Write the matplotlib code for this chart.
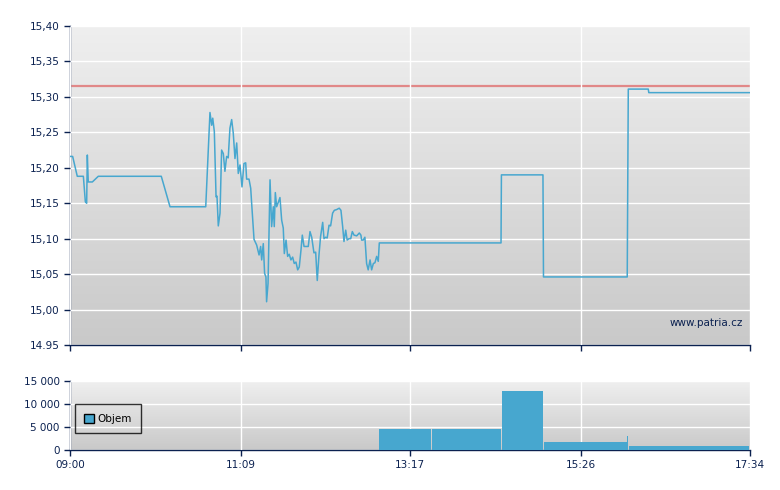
import numpy as np
import matplotlib
matplotlib.use("Agg")
import matplotlib.pyplot as plt
from matplotlib.colors import LinearSegmentedColormap
from matplotlib.patches import Patch

# minutes after the 09:00 open
price_time = [0.0, 2.0, 5.5, 10.1, 11.6, 12.6, 13.1, 13.8, 16.9, 21.4, 69.0, 75.6,
              102.6, 105.8, 107.1, 107.9, 109.1, 110.4, 111.1, 112.1, 113.4, 114.6,
              115.9, 117.1, 118.4, 119.6, 120.9, 122.2, 123.4, 124.7, 126.0, 127.2,
              128.5, 130.0, 131.5, 132.8, 133.5, 135.3, 136.6, 137.3, 139.1, 141.1,
              142.9, 144.1, 144.9, 146.1, 147.1, 148.1, 148.6, 149.7, 151.2, 152.4,
              153.7, 154.4, 155.2, 156.2, 157.4, 158.7, 160.0, 161.2, 162.0, 163.3,
              164.5, 165.7, 167.0, 168.3, 169.5, 170.8, 172.1, 173.3, 174.6, 175.6,
              176.9, 178.4, 180.1, 181.4, 182.7, 184.4, 185.7, 186.9, 188.2, 189.4,
              191.0, 192.0, 193.2, 194.4, 195.8, 197.0, 198.5, 199.8, 201.5, 203.5,
              204.8, 206.1, 207.1, 208.4, 209.5, 210.9, 212.2, 213.4, 214.7, 216.7,
              218.7, 219.9, 220.4, 221.6, 222.9, 224.2, 225.4, 226.8, 228.0, 229.3,
              230.5, 231.8, 233.0, 233.8, 325.8, 326.1, 357.5, 357.9, 421.2, 422.0,
              437.1, 437.5, 514.0]
price = [15.216, 15.216, 15.188, 15.188, 15.152, 15.150, 15.218, 15.180, 15.180, 15.188,
         15.188, 15.145, 15.145, 15.278, 15.260, 15.270, 15.251, 15.159, 15.160, 15.118,
         15.136, 15.225, 15.220, 15.195, 15.216, 15.214, 15.256, 15.268, 15.249, 15.213,
         15.235, 15.192, 15.204, 15.173, 15.206, 15.207, 15.184, 15.184, 15.171, 15.150,
         15.099, 15.091, 15.077, 15.089, 15.070, 15.093, 15.051, 15.046, 15.011, 15.037,
         15.183, 15.117, 15.145, 15.117, 15.165, 15.145, 15.151, 15.158, 15.126, 15.115,
         15.079, 15.098, 15.075, 15.078, 15.070, 15.074, 15.065, 15.067, 15.056, 15.060,
         15.084, 15.105, 15.089, 15.089, 15.089, 15.110, 15.102, 15.080, 15.081, 15.041,
         15.077, 15.103, 15.123, 15.100, 15.102, 15.101, 15.119, 15.118, 15.136, 15.140,
         15.141, 15.143, 15.140, 15.117, 15.096, 15.112, 15.098, 15.100, 15.100, 15.110,
         15.105, 15.104, 15.108, 15.105, 15.098, 15.098, 15.102, 15.065, 15.056, 15.070,
         15.056, 15.065, 15.066, 15.075, 15.068, 15.094, 15.094, 15.190, 15.190, 15.046,
         15.046, 15.311, 15.311, 15.306, 15.306]
prev_close = 15.315

vol_start = [233.6, 273.8, 326.3, 358.3, 421.3, 422.6, 484.0, 487.8, 494.7]
vol_end = 514.0
volume = [4500, 4500, 12800, 1800, 3000, 900, 900, 900, 900]

x_labels = ["09:00", "11:09", "13:17", "15:26", "17:34"]
price_ticks = [14.95, 15.00, 15.05, 15.10, 15.15, 15.20, 15.25, 15.30, 15.35, 15.40]
price_labels = ["14.95", "15,00", "15,05", "15,10", "15,15", "15,20", "15,25",
                "15,30", "15,35", "15,40"]
vol_ticks = [0, 5000, 10000, 15000]
vol_labels = ["0", "5 000", "10 000", "15 000"]

navy = "#0b2150"
blue = "#47a7cf"
bg = LinearSegmentedColormap.from_list("bg", ["#c9c9c9", "#efefef"])


def minutes(lbl):
    h, m = lbl.split(":")
    return int(h) * 60 + int(m) - 540


x_pos = [minutes(l) for l in x_labels]


def style(ax):
    ax.imshow(np.linspace(0, 1, 256).reshape(-1, 1), cmap=bg, origin="lower",
              extent=[0, 1, 0, 1], transform=ax.transAxes, aspect="auto", zorder=0)
    for s in ["top", "right"]:
        ax.spines[s].set_visible(False)
    for s in ["left", "bottom"]:
        ax.spines[s].set_color(navy)
        ax.spines[s].set_linewidth(1.0)
    ax.tick_params(colors=navy, labelsize=7.5, length=4, width=1, direction="out")
    ax.set_xlim(0, x_pos[-1])
    ax.set_xticks(x_pos)
    ax.grid(True, color="white", linewidth=1.0, zorder=1)
    ax.set_axisbelow(False)


fig = plt.figure(figsize=(7.8, 4.9), dpi=100)
ax1 = fig.add_axes([70 / 780, 1 - 345 / 490, 680 / 780, 319 / 490])
ax2 = fig.add_axes([70 / 780, 1 - 450 / 490, 680 / 780, 69 / 490])

style(ax1)
ax1.set_ylim(14.95, 15.40)
ax1.set_yticks(price_ticks)
ax1.set_yticklabels(price_labels)
ax1.set_xticklabels([])
ax1.axhline(prev_close, color="#e07878", linewidth=1.6, alpha=0.85, zorder=2)
ax1.plot(price_time, price, color=blue, linewidth=1.1, zorder=3)
ax1.text(0.99, 0.068, "www.patria.cz", transform=ax1.transAxes, ha="right",
         va="center", color=navy, fontsize=7.5, zorder=4)

style(ax2)
ax2.set_ylim(0, 15000)
ax2.set_yticks(vol_ticks)
ax2.set_yticklabels(vol_labels)
ax2.set_xticklabels(x_labels)
edges = vol_start + [vol_end]
widths = [edges[i + 1] - edges[i] - 0.6 for i in range(len(vol_start))]
ax2.bar(vol_start, volume, width=widths, align="edge", color=blue,
        linewidth=0, zorder=3)
leg = ax2.legend(handles=[Patch(facecolor=blue, edgecolor="black", label="Objem")],
                 loc="upper left", bbox_to_anchor=(0.007, 0.66), frameon=True,
                 fancybox=False, fontsize=7.5, handlelength=0.9, handleheight=0.9,
                 borderpad=0.9, handletextpad=0.4, borderaxespad=0)
leg.get_frame().set_edgecolor("black")
leg.get_frame().set_facecolor("none")
leg.get_frame().set_linewidth(1.0)

fig.savefig("out.png", dpi=100)
